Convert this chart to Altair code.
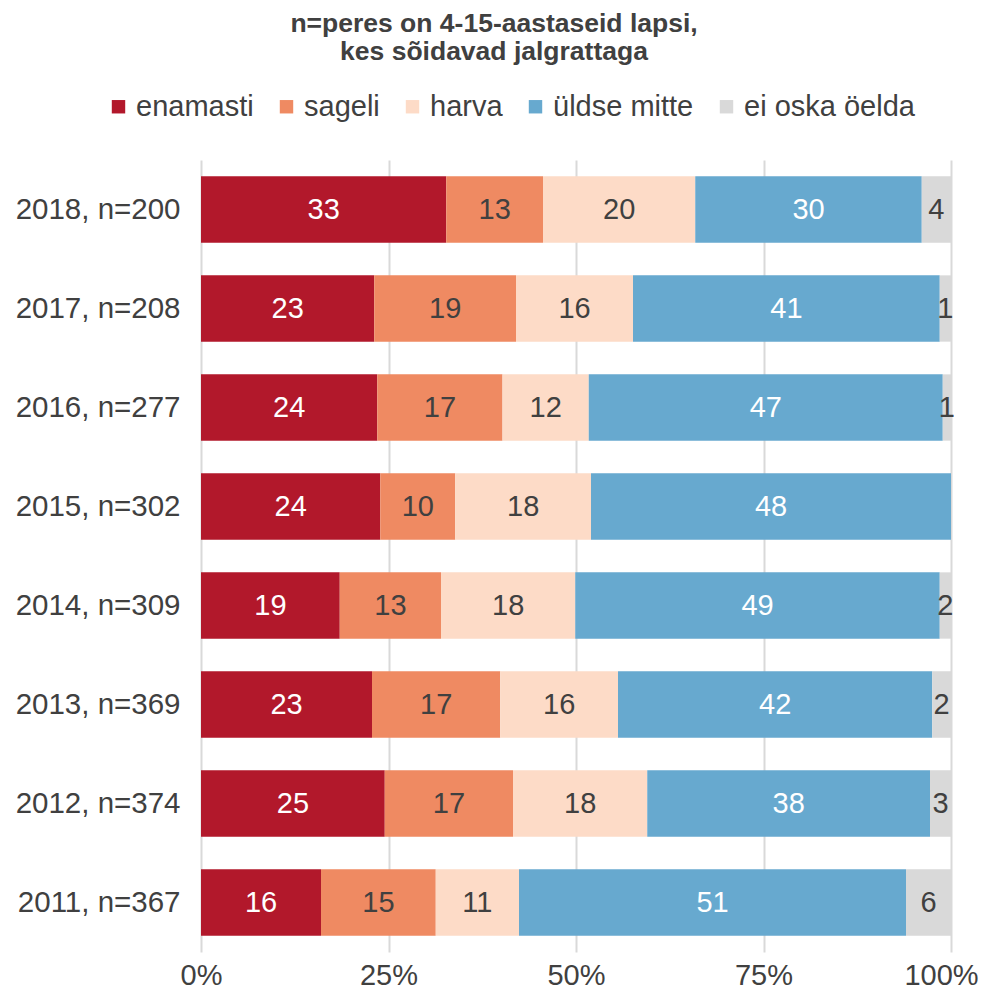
import altair as alt
import pandas as pd

years = ["2018, n=200", "2017, n=208", "2016, n=277", "2015, n=302",
         "2014, n=309", "2013, n=369", "2012, n=374", "2011, n=367"]
categories = ["enamasti", "sageli", "harva", "üldse mitte", "ei oska öelda"]
colors = ["#b2182b", "#ef8a62", "#fddbc7", "#67a9cf", "#d9d9d9"]
text_colors = ["#ffffff", "#404040", "#404040", "#ffffff", "#404040"]

# segment widths (percent)
enamasti = [32.7, 23.1, 23.5, 23.9, 18.5, 22.8, 24.5, 16.0]
sageli = [12.9, 18.9, 16.7, 10.0, 13.5, 17.1, 17.1, 15.3]
harva = [20.3, 15.6, 11.5, 18.1, 17.9, 15.7, 17.9, 11.1]
uldse = [30.2, 40.9, 47.2, 48.0, 48.6, 41.9, 37.7, 51.6]
eioska = [3.9, 1.5, 1.1, 0.0, 1.5, 2.5, 2.8, 6.0]

# labels printed on the bars
lab_enamasti = [33, 23, 24, 24, 19, 23, 25, 16]
lab_sageli = [13, 19, 17, 10, 13, 17, 17, 15]
lab_harva = [20, 16, 12, 18, 18, 16, 18, 11]
lab_uldse = [30, 41, 47, 48, 49, 42, 38, 51]
lab_eioska = [4, 1, 1, 0, 2, 2, 3, 6]

series = [enamasti, sageli, harva, uldse, eioska]
labels = [lab_enamasti, lab_sageli, lab_harva, lab_uldse, lab_eioska]

rows = []
for ci, cat in enumerate(categories):
    for yi, yr in enumerate(years):
        rows.append({"year": yr, "cat": cat, "order": ci,
                     "value": series[ci][yi], "label": labels[ci][yi],
                     "tcolor": text_colors[ci]})
df = pd.DataFrame(rows)

FONT = "Liberation Sans"
GREY = "#404040"
FS = 29

base = alt.Chart(df).transform_stack(
    stack="value", groupby=["year"], sort=[alt.SortField("order")], as_=["x0", "x1"]
).transform_calculate(mid="(datum.x0 + datum.x1) / 2")

y_enc = alt.Y("year:N", sort=years, title=None,
              scale=alt.Scale(paddingInner=0.33, paddingOuter=0.165),
              axis=alt.Axis(ticks=False, domain=False, labelFontSize=29.5,
                            labelColor=GREY, labelFont=FONT, labelPadding=21))

bars = base.mark_bar().encode(
    x=alt.X("x0:Q", scale=alt.Scale(domain=[0, 100], nice=False), title=None,
            axis=alt.Axis(values=[0, 25, 50, 75, 100], labelExpr="datum.value + '%'",
                          ticks=False, domain=False, grid=True, gridColor="#d9d9d9",
                          gridWidth=2, labelFontSize=FS, labelColor=GREY,
                          labelFont=FONT, labelPadding=9, labelFlush=False,
                          labelOffset={"condition": {"test": "datum.value == 100", "value": -10},
                                       "value": 0})),
    x2="x1:Q",
    y=y_enc,
    color=alt.Color("cat:N", sort=categories,
                    scale=alt.Scale(domain=categories, range=colors),
                    legend=alt.Legend(title=None, orient="none", direction="horizontal",
                                      legendX=-97, legendY=-68, symbolType="square",
                                      symbolSize=180, symbolStrokeWidth=0,
                                      labelFontSize=FS, labelColor=GREY, labelFont=FONT,
                                      labelOffset=3, columnPadding=18, labelLimit=400)),
    order=alt.Order("order:Q"),
)

texts = base.transform_filter("datum.value > 0").mark_text(
    fontSize=FS, font=FONT, align="center", baseline="middle"
).encode(
    x="mid:Q",
    y=alt.Y("year:N", sort=years),
    text="label:Q",
    color=alt.Color("tcolor:N", scale=None),
)

chart = alt.layer(bars, texts).properties(
    width=750, height=792,
    title=alt.TitleParams(["n=peres on 4-15-aastaseid lapsi,", "kes sõidavad jalgrattaga"],
                          fontSize=26.5, font=FONT, fontWeight="bold", color=GREY,
                          anchor="middle", dx=-82, lineHeight=28, offset=27),
    autosize=alt.AutoSizeParams(type="none"),
    padding={"left": 193, "top": 152, "right": 29, "bottom": 39},
).configure_view(stroke=None)

chart.save("out.html", embed_options={"renderer": "svg", "actions": False})
